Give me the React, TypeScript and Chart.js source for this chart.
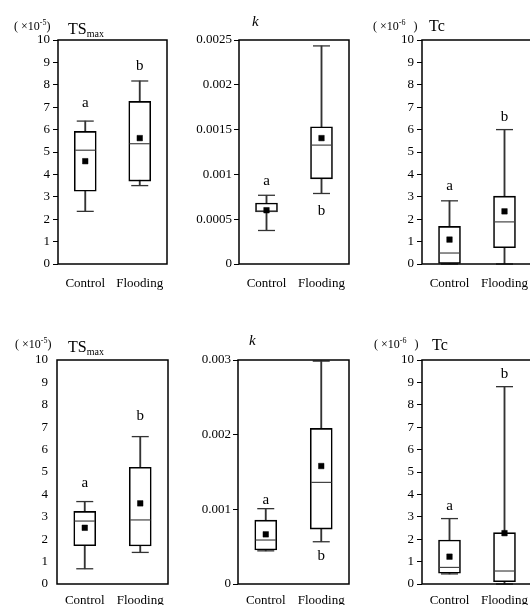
import React, { useEffect, useRef } from 'react';
import { Chart, registerables } from 'chart.js';

Chart.register(...registerables);

const FONT = "'Liberation Serif', 'Times New Roman', Times, serif";

const categories = ['Control', 'Flooding'];
const groupLetters = ['a', 'b'];

const unitTicks = ['0', '1', '2', '3', '4', '5', '6', '7', '8', '9', '10'];
const kTopTicks = ['0', '0.0005', '0.001', '0.0015', '0.002', '0.0025'];
const kBottomTicks = ['0', '0.001', '0.002', '0.003'];

// Top row — TSmax (×10^-5)
const tsTopMin = [2.35, 3.5];
const tsTopQ1 = [3.25, 3.7];
const tsTopMedian = [5.08, 5.37];
const tsTopQ3 = [5.92, 7.26];
const tsTopMax = [6.38, 8.17];
const tsTopMean = [4.59, 5.62];
const tsTopLetterY = [7.2, 8.85];

// Top row — k
const kTopMin = [0.000374, 0.000787];
const kTopQ1 = [0.00058, 0.00095];
const kTopMedian = [0.00059, 0.001327];
const kTopQ3 = [0.000681, 0.001532];
const kTopMax = [0.000767, 0.002434];
const kTopMean = [0.0006, 0.001405];
const kTopLetterY = [0.00093, 0.00059];

// Top row — Tc (×10^-6)
const tcTopMin = [0, 0];
const tcTopQ1 = [0, 0.73];
const tcTopMedian = [0.49, 1.88];
const tcTopQ3 = [1.68, 3.03];
const tcTopMax = [2.82, 6.0];
const tcTopMean = [1.09, 2.35];
const tcTopLetterY = [3.5, 6.57];

// Bottom row — TSmax (×10^-5)
const tsBotMin = [0.68, 1.41];
const tsBotQ1 = [1.71, 1.7];
const tsBotMedian = [2.81, 2.86];
const tsBotQ3 = [3.24, 5.21];
const tsBotMax = [3.68, 6.58];
const tsBotMean = [2.51, 3.6];
const tsBotLetterY = [4.49, 7.5];

// Bottom row — k
const kBotMin = [0.000444, 0.000566];
const kBotQ1 = [0.000455, 0.000736];
const kBotMedian = [0.000589, 0.001361];
const kBotQ3 = [0.000855, 0.002084];
const kBotMax = [0.001009, 0.002985];
const kBotMean = [0.000665, 0.00158];
const kBotLetterY = [0.00112, 0.00037];

// Bottom row — Tc (×10^-6)
const tcBotMin = [0.45, 0];
const tcBotQ1 = [0.48, 0.1];
const tcBotMedian = [0.74, 0.58];
const tcBotQ3 = [1.96, 2.29];
const tcBotMax = [2.92, 8.81];
const tcBotMean = [1.22, 2.27];
const tcBotLetterY = [3.5, 9.38];

type Panel = {
  key: string;
  x: number; y: number; w: number; h: number;
  yWidth: number; padTop: number; padRight: number; padBottom: number; xGap: number;
  min: number[]; q1: number[]; median: number[]; q3: number[]; max: number[]; mean: number[];
  letterY: number[];
  yMax: number; step: number; ticks: string[]; drawTicks: boolean; tickPad: number;
  exp?: string; prefixDx?: number; prefixDy?: number; prefixGap?: number;
  name: string; sub?: string; italic?: boolean; nameSize: number; nameDx: number; nameDy: number;
};

const panels: Panel[] = [
  {
    key: 'tsTop', x: 0, y: 0, w: 172, h: 300, yWidth: 58, padTop: 40, padRight: 5, padBottom: 6, xGap: 12,
    min: tsTopMin, q1: tsTopQ1, median: tsTopMedian, q3: tsTopQ3, max: tsTopMax, mean: tsTopMean, letterY: tsTopLetterY,
    yMax: 10, step: 1, ticks: unitTicks, drawTicks: true, tickPad: 3,
    exp: '-5', prefixDx: -44, prefixDy: -10, prefixGap: 0,
    name: 'TS', sub: 'max', nameSize: 16, nameDx: 10, nameDy: -6,
  },
  {
    key: 'kTop', x: 172, y: 0, w: 180, h: 300, yWidth: 67, padTop: 40, padRight: 3, padBottom: 6, xGap: 12,
    min: kTopMin, q1: kTopQ1, median: kTopMedian, q3: kTopQ3, max: kTopMax, mean: kTopMean, letterY: kTopLetterY,
    yMax: 0.0025, step: 0.0005, ticks: kTopTicks, drawTicks: true, tickPad: 2,
    name: 'k', italic: true, nameSize: 15, nameDx: 13, nameDy: -14,
  },
  {
    key: 'tcTop', x: 352, y: 0, w: 190, h: 300, yWidth: 70, padTop: 40, padRight: 10, padBottom: 6, xGap: 12,
    min: tcTopMin, q1: tcTopQ1, median: tcTopMedian, q3: tcTopQ3, max: tcTopMax, mean: tcTopMean, letterY: tcTopLetterY,
    yMax: 10, step: 1, ticks: unitTicks, drawTicks: true, tickPad: 3,
    exp: '-6', prefixDx: -49, prefixDy: -10, prefixGap: 8,
    name: 'Tc', nameSize: 16, nameDx: 7, nameDy: -9,
  },
  {
    key: 'tsBot', x: 0, y: 300, w: 172, h: 320, yWidth: 57, padTop: 60, padRight: 4, padBottom: 6, xGap: 9,
    min: tsBotMin, q1: tsBotQ1, median: tsBotMedian, q3: tsBotQ3, max: tsBotMax, mean: tsBotMean, letterY: tsBotLetterY,
    yMax: 10, step: 1, ticks: unitTicks, drawTicks: false, tickPad: 9,
    exp: '-5', prefixDx: -42, prefixDy: -12, prefixGap: 0,
    name: 'TS', sub: 'max', nameSize: 16, nameDx: 11, nameDy: -8,
  },
  {
    key: 'kBot', x: 172, y: 300, w: 180, h: 320, yWidth: 66, padTop: 60, padRight: 3, padBottom: 6, xGap: 9,
    min: kBotMin, q1: kBotQ1, median: kBotMedian, q3: kBotQ3, max: kBotMax, mean: kBotMean, letterY: kBotLetterY,
    yMax: 0.003, step: 0.001, ticks: kBottomTicks, drawTicks: true, tickPad: 2,
    name: 'k', italic: true, nameSize: 15, nameDx: 11, nameDy: -15,
  },
  {
    key: 'tcBot', x: 352, y: 300, w: 190, h: 320, yWidth: 70, padTop: 60, padRight: 10, padBottom: 6, xGap: 9,
    min: tcBotMin, q1: tcBotQ1, median: tcBotMedian, q3: tcBotQ3, max: tcBotMax, mean: tcBotMean, letterY: tcBotLetterY,
    yMax: 10, step: 1, ticks: unitTicks, drawTicks: true, tickPad: 3,
    exp: '-6', prefixDx: -48, prefixDy: -12, prefixGap: 8,
    name: 'Tc', nameSize: 16, nameDx: 10, nameDy: -10,
  },
];

function decorPlugin(p: Panel) {
  return {
    id: 'decor_' + p.key,
    afterDraw(chart: any) {
      const { ctx, chartArea: a, scales } = chart;
      ctx.save();
      // frame
      ctx.strokeStyle = '#000';
      ctx.lineWidth = 1.5;
      ctx.strokeRect(a.left, a.top, a.right - a.left, a.bottom - a.top);
      // group letters
      ctx.fillStyle = '#000';
      ctx.font = `15px ${FONT}`;
      ctx.textAlign = 'center';
      ctx.textBaseline = 'middle';
      categories.forEach((_, i) => {
        ctx.fillText(groupLetters[i], scales.x.getPixelForValue(i), scales.y.getPixelForValue(p.letterY[i]));
      });
      // title
      ctx.textAlign = 'left';
      ctx.textBaseline = 'alphabetic';
      if (p.exp) {
        let x = a.left + (p.prefixDx || 0);
        const y = a.top + (p.prefixDy || 0);
        ctx.font = `12px ${FONT}`;
        const pre = '( ×10';
        ctx.fillText(pre, x, y);
        x += ctx.measureText(pre).width;
        ctx.font = `8px ${FONT}`;
        ctx.fillText(p.exp, x, y - 5);
        x += ctx.measureText(p.exp).width + (p.prefixGap || 0);
        ctx.font = `12px ${FONT}`;
        ctx.fillText(')', x, y);
      }
      let nx = a.left + p.nameDx;
      const ny = a.top + p.nameDy;
      ctx.font = `${p.italic ? 'italic ' : ''}${p.nameSize}px ${FONT}`;
      ctx.fillText(p.name, nx, ny);
      if (p.sub) {
        nx += ctx.measureText(p.name).width;
        ctx.font = `10px ${FONT}`;
        ctx.fillText(p.sub, nx, ny + 3);
      }
      ctx.restore();
    },
  };
}

function buildConfig(p: Panel): any {
  const boxData = categories.map((_, i) => [p.q1[i], p.q3[i]]);
  const whiskerData = categories.map((_, i) => [p.min[i], p.max[i]]);
  const pointDs = (data: number[], style: string, radius: number, color: string, bw: number, order: number, fill?: string) => ({
    type: 'line',
    data,
    showLine: false,
    pointStyle: style,
    pointRadius: radius,
    pointHoverRadius: radius,
    pointBorderColor: color,
    pointBackgroundColor: fill || color,
    pointBorderWidth: bw,
    borderColor: color,
    backgroundColor: fill || color,
    order,
    clip: 10,
  });
  return {
    type: 'bar',
    data: {
      labels: categories,
      datasets: [
        {
          type: 'bar', data: whiskerData, backgroundColor: '#333', borderWidth: 0,
          barThickness: 1.2, grouped: false, order: 6,
        },
        pointDs(p.max, 'line', 8.5, '#333', 1.3, 5),
        pointDs(p.min, 'line', 8.5, '#333', 1.3, 4),
        {
          type: 'bar', data: boxData, backgroundColor: '#fff', borderColor: '#000', borderWidth: 1.6,
          borderSkipped: false, barThickness: 22, grouped: false, order: 3,
        },
        pointDs(p.median, 'line', 10.2, '#444', 1.2, 2),
        pointDs(p.mean, 'rect', 3.9, '#000', 0.5, 1, '#000'),
      ],
    },
    options: {
      responsive: false,
      animation: false,
      events: [],
      layout: { autoPadding: false, padding: { top: p.padTop, right: p.padRight, bottom: p.padBottom, left: 0 } },
      plugins: { legend: { display: false }, tooltip: { enabled: false }, title: { display: false } },
      scales: {
        x: {
          type: 'category',
          offset: true,
          grid: { display: false, drawTicks: true, tickLength: p.xGap },
          border: { display: false },
          ticks: { color: '#000', font: { family: FONT, size: 13 }, padding: 0, maxRotation: 0, autoSkip: false },
          afterFit: (s: any) => { s.height = 30; },
        },
        y: {
          type: 'linear',
          min: 0,
          max: p.yMax,
          grid: { display: true, drawOnChartArea: false, drawTicks: p.drawTicks, tickLength: 5, color: '#000', lineWidth: 1 },
          border: { display: false },
          ticks: {
            stepSize: p.step,
            autoSkip: false,
            color: '#000',
            padding: p.tickPad,
            font: { family: FONT, size: 13 },
            callback: (_v: any, i: number) => p.ticks[i],
          },
          afterFit: (s: any) => { s.width = p.yWidth; },
        },
      },
    },
    plugins: [decorPlugin(p)],
  };
}

function PanelChart({ p }: { p: Panel }) {
  const ref = useRef<HTMLCanvasElement | null>(null);
  useEffect(() => {
    if (!ref.current) return;
    const chart = new Chart(ref.current, buildConfig(p));
    return () => chart.destroy();
  }, [p]);
  return (
    <canvas
      ref={ref}
      width={p.w}
      height={p.h}
      style={{ position: 'absolute', left: p.x, top: p.y, width: p.w, height: p.h }}
    />
  );
}

export default function App() {
  return (
    <div
      style={{
        position: 'fixed', left: 0, top: 0, width: 530, height: 605,
        overflow: 'hidden', background: '#fff',
      }}
    >
      {panels.map((p) => (
        <PanelChart key={p.key} p={p} />
      ))}
    </div>
  );
}
